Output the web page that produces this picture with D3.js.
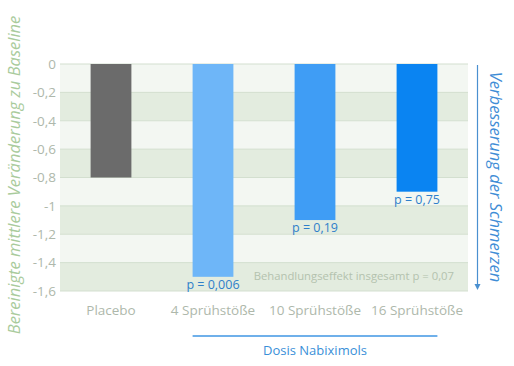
<!DOCTYPE html>
<html><head><meta charset="utf-8">
<script src="https://cdn.jsdelivr.net/npm/d3@7"></script>
<style>body{margin:0;background:#fff}svg{display:block;font-family:"Open Sans",sans-serif}</style>
</head><body><svg id="c" width="514" height="366"></svg>
<script>
const categories = ["Placebo","4 Sprühstöße","10 Sprühstöße","16 Sprühstöße"];
const values = [-0.8,-1.5,-1.1,-0.9];
const pLabels = [null,"p = 0,006","p = 0,19","p = 0,75"];
const barColors = ["#6b6b6b","#6eb6f8","#3f9df5","#0a84f2"];
const yTicks = [0,-0.2,-0.4,-0.6,-0.8,-1,-1.2,-1.4,-1.6];

const svg = d3.select("#c");
const m = {l:60, r:468, t:64, b:291};
const x = d3.scaleBand().domain(categories).range([m.l,m.r]).paddingInner(0.6).paddingOuter(0.3);
const y = d3.scaleLinear().domain([0,-1.6]).range([m.t,m.b]);
const fmt = v => String(v).replace(".",",");

// bands
const bands = yTicks.slice(0,-1).map((v,i)=>({v0:v, v1:yTicks[i+1], i}));
svg.append("g").selectAll("rect").data(bands).join("rect")
  .attr("x",m.l).attr("width",m.r-m.l)
  .attr("y",d=>y(d.v0)).attr("height",d=>y(d.v1)-y(d.v0))
  .attr("fill",d=>d.i%2? "#e3ecdf":"#f3f7f2");
svg.append("g").selectAll("line").data(yTicks).join("line")
  .attr("x1",m.l).attr("x2",m.r).attr("y1",d=>y(d)).attr("y2",d=>y(d))
  .attr("stroke","#d3dfcf").attr("stroke-width",1);

// y axis
const ya = svg.append("g").attr("transform",`translate(${m.l},0)`)
  .call(d3.axisLeft(y).tickValues(yTicks).tickSize(0).tickPadding(4).tickFormat(fmt));
ya.select(".domain").remove();
ya.selectAll("text").attr("fill","#aeb8ab").attr("font-size",13.5).attr("font-family","'Open Sans',sans-serif");

// bars
svg.append("g").selectAll("rect").data(categories).join("rect")
  .attr("x",d=>x(d)).attr("width",x.bandwidth())
  .attr("y",y(0)).attr("height",(d,i)=>y(values[i])-y(0))
  .attr("fill",(d,i)=>barColors[i]);

// p labels
svg.append("g").selectAll("text").data(categories.filter((d,i)=>pLabels[i])).join("text")
  .attr("x",d=>x(d)+x.bandwidth()/2)
  .attr("y",d=>y(values[categories.indexOf(d)])+12)
  .attr("text-anchor","middle").attr("font-size",12.5).attr("fill","#2f7fca")
  .text(d=>pLabels[categories.indexOf(d)]);

// x axis
const xa = svg.append("g").attr("transform",`translate(0,${m.b})`)
  .call(d3.axisBottom(x).tickSize(0).tickPadding(14));
xa.select(".domain").remove();
xa.selectAll("text").attr("fill","#aeb8ab").attr("font-size",13.5).attr("font-family","'Open Sans',sans-serif");

// overall effect
svg.append("text").attr("x",454).attr("y",280).attr("text-anchor","end")
  .attr("font-size",11.3).attr("fill","#b3c2ae").text("Behandlungseffekt insgesamt p = 0,07");

// Dosis bracket
const x1 = x(categories[1]), x2 = x(categories[3])+x.bandwidth();
svg.append("line").attr("x1",x1).attr("x2",x2).attr("y1",336).attr("y2",336)
  .attr("stroke","#6fb0ea").attr("stroke-width",2);
svg.append("text").attr("x",(x1+x2)/2).attr("y",355).attr("text-anchor","middle")
  .attr("font-size",13).attr("fill","#3a8fd8").text("Dosis Nabiximols");

// right arrow
svg.append("line").attr("x1",477.5).attr("x2",477.5).attr("y1",65).attr("y2",287)
  .attr("stroke","#4a90d0").attr("stroke-width",1.2);
svg.append("path").attr("d","M474.5,284 L477.5,290 L480.5,284 Z").attr("fill","#4a90d0");
svg.append("text").attr("transform","translate(490,177) rotate(90)").attr("text-anchor","middle")
  .attr("font-size",16.5).attr("font-style","italic").attr("fill","#3f8dd6").text("Verbesserung der Schmerzen");

// left title
svg.append("text").attr("transform","translate(20,175) rotate(-90)").attr("text-anchor","middle")
  .attr("font-size",16.5).attr("font-style","italic").attr("fill","#a9cb9c").text("Bereinigte mittlere Veränderung zu Baseline");
</script></body></html>
